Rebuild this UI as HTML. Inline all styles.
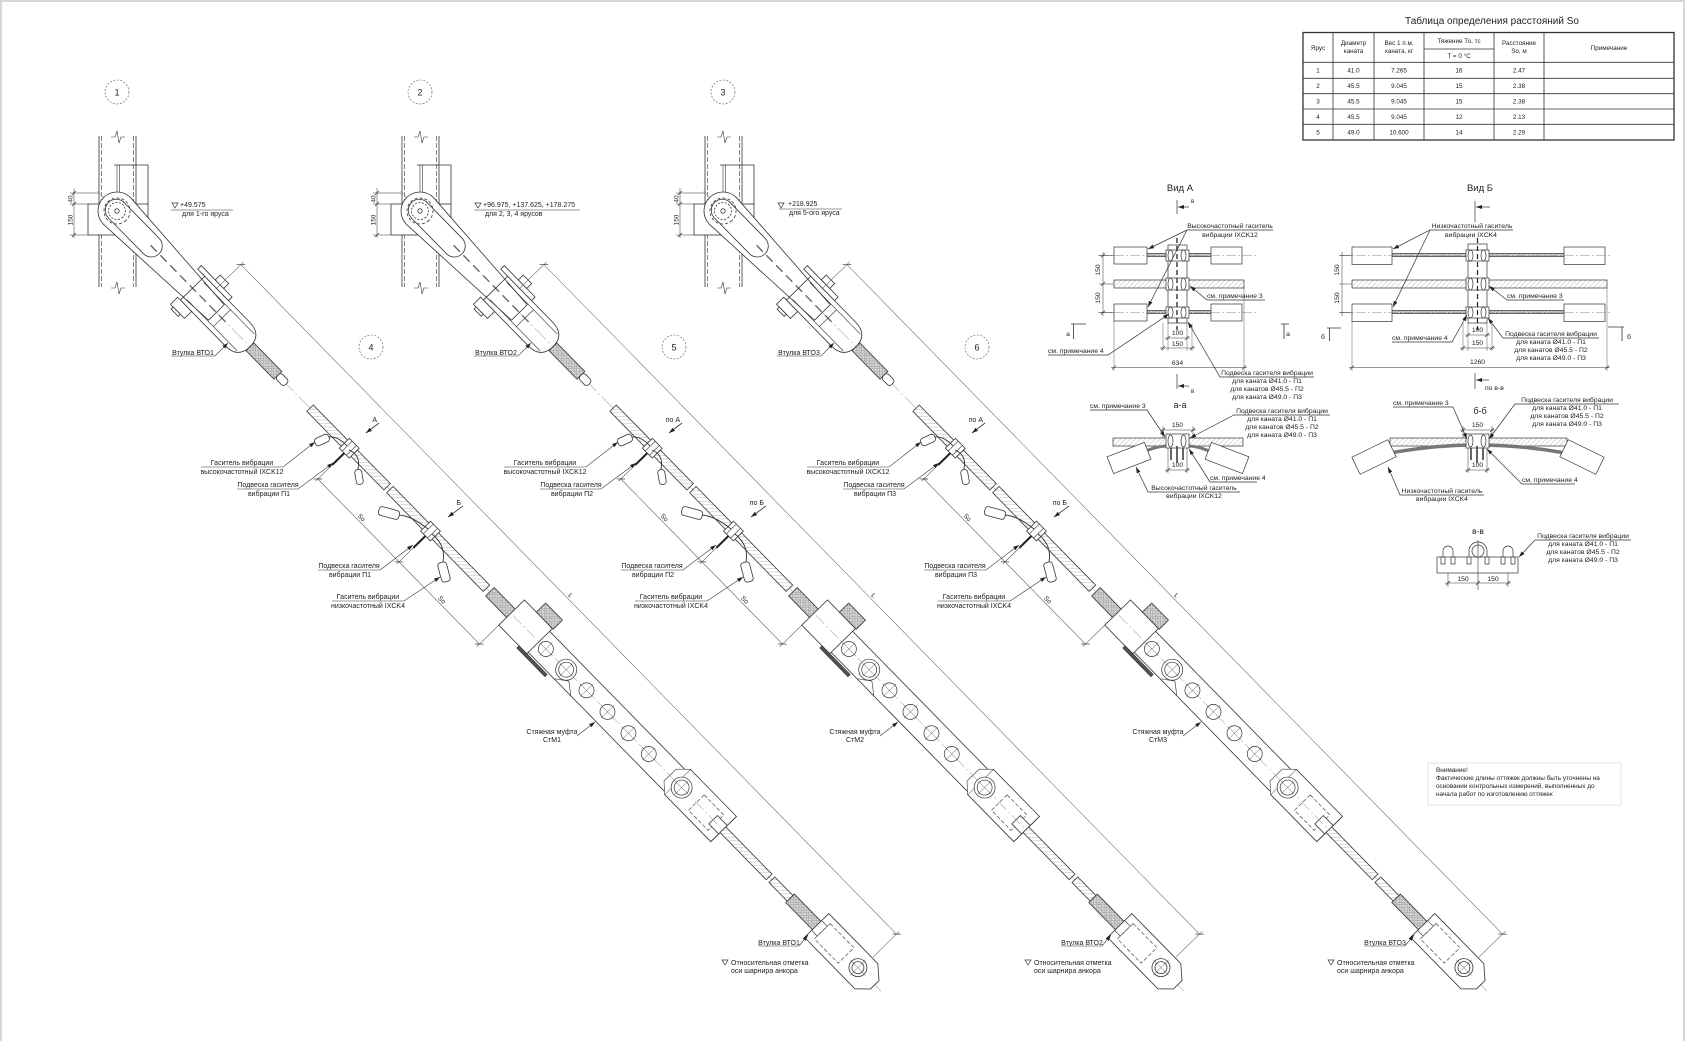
<!DOCTYPE html>
<html><head><meta charset="utf-8">
<style>
html,body{margin:0;padding:0;background:#fff;}
svg{display:block;}
text{font-family:"Liberation Sans",Arial,sans-serif;fill:#222;}
</style></head><body>
<svg width="1687" height="1041" viewBox="0 0 1687 1041" xmlns="http://www.w3.org/2000/svg">
<defs>
<pattern id="hc" width="3.5" height="3.5" patternUnits="userSpaceOnUse" patternTransform="rotate(45)"><rect width="3.5" height="3.5" fill="#fff"/><line x1="0" y1="0" x2="0" y2="3.5" stroke="#888" stroke-width="0.6"/></pattern>
<pattern id="xh" width="2.6" height="2.6" patternUnits="userSpaceOnUse" patternTransform="rotate(45)"><rect width="2.6" height="2.6" fill="#d4d4d4"/><path d="M0,0 V2.6 M0,0 H2.6" stroke="#666" stroke-width="0.45"/></pattern>
<marker id="ar" viewBox="0 0 6 4" refX="6" refY="2" markerWidth="6" markerHeight="4" markerUnits="userSpaceOnUse" orient="auto"><path d="M0,0 L6,2 L0,4 Z" fill="#222"/></marker>

<g id="asm">
  <circle cx="117" cy="92" r="12" fill="none" stroke="#555" stroke-width="0.6" stroke-dasharray="2 1.5"/>
  <circle cx="371" cy="347" r="12" fill="none" stroke="#555" stroke-width="0.6" stroke-dasharray="2 1.5"/>
  <g fill="none" stroke="#333" stroke-width="0.8">
    <path d="M99,136 V287 M136,136 V287"/>
    <path d="M101.5,136 V287 M133.5,136 V287" stroke-dasharray="5 2" stroke-width="0.6"/>
    <path d="M111,137 L115,137 L117,131 L119,143 L121,137 L125,137" stroke-width="0.6"/>
    <path d="M111,288 L115,288 L117,282 L119,294 L121,288 L125,288" stroke-width="0.6"/>
    <path d="M114,165 H148 V205"/>
    <path d="M117,165 V204 M119.5,165 V204" stroke-width="0.6"/>
    <rect x="88" y="204" width="60" height="31" fill="#fff"/>
    <path d="M74,188 V238 M70,193 H100 M70,204 H88 M70,235 H88" stroke-width="0.5"/>
    <path d="M72,195 L76,191 M72,206 L76,202 M72,237 L76,233" stroke-width="0.7"/>
  </g>
  <g transform="translate(117,211) rotate(45.6)" fill="none" stroke="#333" stroke-width="0.8">
    <line x1="-28" y1="0" x2="1092" y2="0" stroke="#999" stroke-width="0.5" stroke-dasharray="16 3 2 3"/>
    <path d="M0,-19 A19,19 0 0,0 0,19 L142,11 L142,-11 Z" fill="#fff"/>
    <rect x="-12" y="-11" width="72" height="22" rx="11"/>
    <line x1="48" y1="0" x2="160" y2="0" stroke="#666" stroke-width="1.4" stroke-dasharray="9 5"/>
    <circle r="13" stroke-dasharray="3 2"/>
    <circle r="8.5" stroke-dasharray="2 1.5"/>
    <circle r="2.2"/>
    <path d="M108,-17 L172,-17 Q190,-17 190,0 Q190,17 172,17 L108,17 Z"/>
    <path d="M112,-12 H184 M112,12 H184 M150,-12 V12" stroke-width="0.6"/>
    <rect x="98" y="-22" width="44" height="5" fill="#fff"/>
    <rect x="118" y="-29" width="12" height="7" fill="#fff"/>
    <rect x="104" y="17" width="20" height="10" fill="#fff"/>
    <rect x="108" y="27" width="10" height="3" fill="#fff"/>
    <rect x="190" y="-5.5" width="40" height="11" fill="url(#xh)"/>
    <rect x="230" y="-4" width="12" height="8" rx="3" fill="#fff"/>
    <rect x="276" y="-4.5" width="110" height="9" fill="url(#hc)"/>
    <rect x="390" y="-4.5" width="138" height="9" fill="url(#hc)"/>
    <rect x="325" y="-7" width="14" height="14" fill="#fff"/>
    <path d="M329,-7 V7 M335,-7 V7" stroke-width="0.6"/>
    <rect x="441" y="-7" width="14" height="14" fill="#fff"/>
    <path d="M445,-7 V7 M451,-7 V7" stroke-width="0.6"/>
    <path d="M332,7 V24 M448,7 V24" stroke="#222" stroke-width="2"/>
    <path d="M332,24 V47 M448,24 V47" stroke-width="0.5"/>
    <path d="M331,44 H563 M563,17 V48" stroke-width="0.5" stroke="#444"/>
    <path d="M329,47 L335,41 M445,47 L451,41 M560,47 L566,41" stroke-width="0.7"/>
    <rect x="533" y="-6" width="32" height="12" fill="url(#xh)"/>
    <rect x="566" y="-15" width="300" height="30" fill="#fff"/>
    <rect x="563" y="-19" width="40" height="36" fill="#fff"/>
    <rect x="580" y="-32" width="24" height="13" fill="url(#xh)"/>
    <rect x="592" y="17" width="40" height="3" fill="#555"/>
    <path d="M640,15 L652,6 L664,15" stroke-width="0.6"/>
    <rect x="800" y="-19" width="66" height="36" fill="#fff"/>
    <path d="M800,-19 L790,-9 L790,8 L800,17" fill="#fff" stroke-width="0.6"/>
    <rect x="828" y="-11" width="28" height="22" stroke-dasharray="4 2" stroke-width="0.6"/>
    <rect x="852" y="-6" width="14" height="12" fill="#fff"/>
    <line x1="566" y1="0" x2="866" y2="0" stroke="#999" stroke-width="0.5" stroke-dasharray="12 3 2 3"/>
    <g stroke-width="0.7">
      <circle cx="613" r="7.5" fill="#fff"/><circle cx="642" r="10.5" fill="#fff"/><circle cx="642" r="7.5"/>
      <circle cx="671" r="7.5" fill="#fff"/><circle cx="701" r="7.5" fill="#fff"/><circle cx="731" r="7.5" fill="#fff"/>
      <circle cx="760" r="7.5" fill="#fff"/><circle cx="807" r="10.5" fill="#fff"/><circle cx="807" r="7.5"/>
    </g>
    <path d="M604,0 H622 M613,-9 V9 M633,0 H651 M642,-9 V9 M662,0 H680 M671,-9 V9 M692,0 H710 M701,-9 V9 M722,0 H740 M731,-9 V9 M751,0 H769 M760,-9 V9 M798,0 H816 M807,-9 V9" stroke-width="0.4"/>
    <rect x="866" y="-4" width="66" height="8" fill="url(#hc)"/>
    <rect x="936" y="-4" width="26" height="8" fill="url(#hc)"/>
    <rect x="962" y="-6" width="40" height="12" fill="url(#xh)"/>
    <path d="M1000,-17 L1070,-17 L1083,-6 L1083,6 L1072,17 L1000,17 Z" fill="#fff"/>
    <rect x="1008" y="-11" width="34" height="22" stroke-dasharray="4 2" stroke-width="0.6"/>
    <circle cx="1059" r="9"/><circle cx="1059" r="6"/>
    <path d="M1048,0 H1070 M1059,-11 V11" stroke-width="0.4"/>
    <path d="M1000,-7 h8 v14 h-8" stroke-width="0.6"/>
    <path d="M125,-16 V-55 M1062,-18 V-55 M125,-51 H1062" stroke="#555" stroke-width="0.5"/>
    <path d="M122,-48 L128,-54 M1059,-48 L1065,-54" stroke-width="0.7"/>
  </g>
  <g fill="#fff" stroke="#333" stroke-width="0.8">
    <path d="M347,446 Q338,436 329,437 M349,450 Q361,455 358,469" fill="none" stroke-width="0.9"/>
    <path d="M428,529 Q412,516 399,515 M432,534 Q446,545 443,562" fill="none" stroke-width="0.9"/>
    <rect x="-7.5" y="-4" width="15" height="8" rx="3" transform="translate(322,440) rotate(-25)"/>
    <rect x="-7.5" y="-3.5" width="15" height="7" rx="3" transform="translate(359,477) rotate(80)"/>
    <rect x="-10.5" y="-4.5" width="21" height="9" rx="3" transform="translate(389,513) rotate(15)"/>
    <rect x="-10" y="-4.5" width="20" height="9" rx="3" transform="translate(444,572) rotate(75)"/>
  </g>
  <g fill="none" stroke="#333" stroke-width="0.6">
    <path d="M201,467 H283 L315,442" marker-end="url(#ar)"/>
    <path d="M237,489 H298 L333,463" marker-end="url(#ar)"/>
    <path d="M318,570 H380 L413,545" marker-end="url(#ar)"/>
    <path d="M332,601 H404 L440,577" marker-end="url(#ar)"/>
    <path d="M171,356 H215 L228,343" marker-end="url(#ar)"/>
    <path d="M577,736 L595,722" marker-end="url(#ar)"/>
    <path d="M758,946 H799 L808,935" marker-end="url(#ar)"/>
    <path d="M379,423 L366,433" marker-end="url(#ar)" stroke-width="0.8"/>
    <path d="M463,506 L448,517" marker-end="url(#ar)" stroke-width="0.8"/>
    <path d="M722,960 H728 L725,965 Z" stroke-width="0.7"/>
    <path d="M172,203 H178 L175,208 Z" stroke-width="0.7"/>
  </g>
</g>
</defs>

<rect x="0" y="0" width="1687" height="1041" fill="#fff"/>
<path d="M1,0 V1041 M0,1 H1685 M1684,0 V1041" stroke="#d8d8d8" stroke-width="2" fill="none"/>

<use href="#asm"/>
<use href="#asm" transform="translate(303,0)"/>
<use href="#asm" transform="translate(606,0)"/>

<g font-size="7">
  <g>
    <text x="117" y="95.5" font-size="9" text-anchor="middle">1</text>
    <text x="371" y="350.5" font-size="9" text-anchor="middle">4</text>
    <text transform="translate(72.5,199) rotate(-90)" font-size="6.5" text-anchor="middle">40</text>
    <text transform="translate(72.5,220) rotate(-90)" font-size="6.5" text-anchor="middle">150</text>
    <text x="180" y="207">+49.575</text>
    <path d="M171,210 H233" stroke="#333" stroke-width="0.6"/>
    <text x="182" y="216">для 1-го яруса</text>
    <text x="242" y="465" text-anchor="middle">Гаситель вибрации</text>
    <text x="242" y="474" text-anchor="middle">высокочастотный IXCK12</text>
    <text x="268" y="487" text-anchor="middle">Подвеска гасителя</text>
    <text x="269" y="496" text-anchor="middle">вибрации П1</text>
    <text x="349" y="568" text-anchor="middle">Подвеска гасителя</text>
    <text x="350" y="577" text-anchor="middle">вибрации П1</text>
    <text x="368" y="599" text-anchor="middle">Гаситель вибрации</text>
    <text x="368" y="608" text-anchor="middle">низкочастотный IXCK4</text>
    <text x="193" y="355" text-anchor="middle">Втулка ВТО1</text>
    <text x="552" y="734" text-anchor="middle">Стяжная муфта</text>
    <text x="552" y="742" text-anchor="middle">СтМ1</text>
    <text x="779" y="945" text-anchor="middle">Втулка ВТО1</text>
    <text x="731" y="965">Относительная отметка</text>
    <text x="731" y="973">оси шарнира анкора</text>
    <text x="377" y="422" text-anchor="end">А</text>
    <text x="461" y="505" text-anchor="end">Б</text>
    <g transform="translate(117,211) rotate(45.6)" font-size="6.5">
      <text x="390" y="42" text-anchor="middle">So</text>
      <text x="505" y="42" text-anchor="middle">So</text>
      <text x="592" y="-53" text-anchor="middle">L</text>
    </g>
  </g>
  <g transform="translate(303,0)">
    <text x="117" y="95.5" font-size="9" text-anchor="middle">2</text>
    <text x="371" y="350.5" font-size="9" text-anchor="middle">5</text>
    <text transform="translate(72.5,199) rotate(-90)" font-size="6.5" text-anchor="middle">40</text>
    <text transform="translate(72.5,220) rotate(-90)" font-size="6.5" text-anchor="middle">150</text>
    <text x="242" y="465" text-anchor="middle">Гаситель вибрации</text>
    <text x="242" y="474" text-anchor="middle">высокочастотный IXCK12</text>
    <text x="268" y="487" text-anchor="middle">Подвеска гасителя</text>
    <text x="269" y="496" text-anchor="middle">вибрации П2</text>
    <text x="349" y="568" text-anchor="middle">Подвеска гасителя</text>
    <text x="350" y="577" text-anchor="middle">вибрации П2</text>
    <text x="368" y="599" text-anchor="middle">Гаситель вибрации</text>
    <text x="368" y="608" text-anchor="middle">низкочастотный IXCK4</text>
    <text x="193" y="355" text-anchor="middle">Втулка ВТО2</text>
    <text x="552" y="734" text-anchor="middle">Стяжная муфта</text>
    <text x="552" y="742" text-anchor="middle">СтМ2</text>
    <text x="779" y="945" text-anchor="middle">Втулка ВТО2</text>
    <text x="731" y="965">Относительная отметка</text>
    <text x="731" y="973">оси шарнира анкора</text>
    <text x="377" y="422" text-anchor="end">по А</text>
    <text x="461" y="505" text-anchor="end">по Б</text>
    <g transform="translate(117,211) rotate(45.6)" font-size="6.5">
      <text x="390" y="42" text-anchor="middle">So</text>
      <text x="505" y="42" text-anchor="middle">So</text>
      <text x="592" y="-53" text-anchor="middle">L</text>
    </g>
  </g>
  <text x="483" y="207">+96.975, +137.625, +178.275</text>
  <path d="M474,210 H580" stroke="#333" stroke-width="0.6"/>
  <text x="485" y="216">для 2, 3, 4 ярусов</text>
  <g transform="translate(606,0)">
    <text x="117" y="95.5" font-size="9" text-anchor="middle">3</text>
    <text x="371" y="350.5" font-size="9" text-anchor="middle">6</text>
    <text transform="translate(72.5,199) rotate(-90)" font-size="6.5" text-anchor="middle">40</text>
    <text transform="translate(72.5,220) rotate(-90)" font-size="6.5" text-anchor="middle">150</text>
    <text x="242" y="465" text-anchor="middle">Гаситель вибрации</text>
    <text x="242" y="474" text-anchor="middle">высокочастотный IXCK12</text>
    <text x="268" y="487" text-anchor="middle">Подвеска гасителя</text>
    <text x="269" y="496" text-anchor="middle">вибрации П3</text>
    <text x="349" y="568" text-anchor="middle">Подвеска гасителя</text>
    <text x="350" y="577" text-anchor="middle">вибрации П3</text>
    <text x="368" y="599" text-anchor="middle">Гаситель вибрации</text>
    <text x="368" y="608" text-anchor="middle">низкочастотный IXCK4</text>
    <text x="193" y="355" text-anchor="middle">Втулка ВТО3</text>
    <text x="552" y="734" text-anchor="middle">Стяжная муфта</text>
    <text x="552" y="742" text-anchor="middle">СтМ3</text>
    <text x="779" y="945" text-anchor="middle">Втулка ВТО3</text>
    <text x="731" y="965">Относительная отметка</text>
    <text x="731" y="973">оси шарнира анкора</text>
    <text x="377" y="422" text-anchor="end">по А</text>
    <text x="461" y="505" text-anchor="end">по Б</text>
    <g transform="translate(117,211) rotate(45.6)" font-size="6.5">
      <text x="390" y="42" text-anchor="middle">So</text>
      <text x="505" y="42" text-anchor="middle">So</text>
      <text x="592" y="-53" text-anchor="middle">L</text>
    </g>
  </g>
  <text x="788" y="206">+218.925</text>
  <path d="M779,209 H842" stroke="#333" stroke-width="0.6"/>
  <text x="789" y="215">для 5-ого яруса</text>
</g>

<!-- TABLE -->
<text x="1492" y="24" font-size="10" text-anchor="middle">Таблица определения расстояний So</text>
<g fill="none" stroke="#333" stroke-width="0.8">
  <rect x="1303" y="32.5" width="371" height="107.5" stroke-width="1.3"/>
  <path d="M1333,32.5 V140 M1374,32.5 V140 M1424,32.5 V140 M1494,32.5 V140 M1544,32.5 V140"/>
  <path d="M1424,49 H1494"/>
  <path d="M1303,62.3 H1674 M1303,78.3 H1674 M1303,93.7 H1674 M1303,109 H1674 M1303,124.3 H1674"/>
</g>
<g font-size="6.3" text-anchor="middle">
  <text x="1318" y="50">Ярус</text>
  <text x="1353.5" y="45">Диаметр</text><text x="1353.5" y="53">каната</text>
  <text x="1399" y="45">Вес 1 п.м.</text><text x="1399" y="53">каната, кг</text>
  <text x="1459" y="43">Тяжение То, тс</text><text x="1459" y="58">Т = 0 °С</text>
  <text x="1519" y="45">Расстояние</text><text x="1519" y="53">So, м</text>
  <text x="1609" y="50">Примечание</text>
  <text x="1318" y="72.5">1</text><text x="1353.5" y="72.5">41.0</text><text x="1399" y="72.5">7.265</text><text x="1459" y="72.5">16</text><text x="1519" y="72.5">2.47</text>
  <text x="1318" y="88">2</text><text x="1353.5" y="88">45.5</text><text x="1399" y="88">9.045</text><text x="1459" y="88">15</text><text x="1519" y="88">2.38</text>
  <text x="1318" y="103.5">3</text><text x="1353.5" y="103.5">45.5</text><text x="1399" y="103.5">9.045</text><text x="1459" y="103.5">15</text><text x="1519" y="103.5">2.38</text>
  <text x="1318" y="119">4</text><text x="1353.5" y="119">45.5</text><text x="1399" y="119">9.045</text><text x="1459" y="119">12</text><text x="1519" y="119">2.13</text>
  <text x="1318" y="134.5">5</text><text x="1353.5" y="134.5">49.0</text><text x="1399" y="134.5">10.600</text><text x="1459" y="134.5">14</text><text x="1519" y="134.5">2.29</text>
</g>

<!-- VID A -->
<text x="1180" y="191" font-size="9.5" text-anchor="middle">Вид А</text>
<g fill="none" stroke="#333" stroke-width="0.7">
  <path d="M1177,200 V214"/>
  <path d="M1189,207 H1178" marker-end="url(#ar)"/>
  <rect x="1114" y="280" width="130" height="8" fill="url(#hc)"/>
  <rect x="1147" y="253.5" width="64" height="3" fill="url(#xh)"/>
  <rect x="1147" y="310.5" width="64" height="3" fill="url(#xh)"/>
  <rect x="1114" y="247" width="33" height="17" fill="#fff"/>
  <rect x="1211" y="247" width="31" height="17" fill="#fff"/>
  <rect x="1114" y="304" width="33" height="17" fill="#fff"/>
  <rect x="1211" y="304" width="31" height="17" fill="#fff"/>
  <path d="M1098,255.5 H1256 M1098,312.5 H1256" stroke="#888" stroke-width="0.5" stroke-dasharray="10 2 2 2"/>
  <rect x="1168" y="245" width="19" height="78" fill="#fff"/>
  <g fill="#fff">
    <rect x="1166" y="250" width="23" height="11"/><ellipse cx="1170.5" cy="255.5" rx="2.5" ry="5.5"/><ellipse cx="1183.5" cy="255.5" rx="2.5" ry="5.5"/>
    <rect x="1166" y="278" width="23" height="12"/><ellipse cx="1170.5" cy="284" rx="2.5" ry="6"/><ellipse cx="1183.5" cy="284" rx="2.5" ry="6"/>
    <rect x="1166" y="307" width="23" height="11"/><ellipse cx="1170.5" cy="312.5" rx="2.5" ry="5.5"/><ellipse cx="1183.5" cy="312.5" rx="2.5" ry="5.5"/>
  </g>
  <path d="M1177,238 V330" stroke="#222" stroke-width="1.3" stroke-dasharray="5 3"/>
  <path d="M1103,252 V316 M1099,255.5 H1114 M1099,284 H1114 M1099,312.5 H1114" stroke-width="0.5"/>
  <path d="M1101,257.5 L1105,253.5 M1101,286 L1105,282 M1101,314.5 L1105,310.5"/>
  <path d="M1114,321 V371 M1244,288 V371 M1168,323 V351 M1187,323 V351 M1163,323 V351 M1192,323 V351" stroke-width="0.4"/>
  <path d="M1165,338 H1190 M1160,348 H1195 M1111,367.5 H1247" stroke-width="0.5"/>
  <path d="M1166,340 L1170,336 M1185,340 L1189,336 M1161,350 L1165,346 M1190,350 L1194,346 M1112,369.5 L1116,365.5 M1242,369.5 L1246,365.5"/>
  <path d="M1071,324 H1086 M1073.5,324 V339 M1281,324 H1289 M1284,324 V339" stroke-width="0.8"/>
  <path d="M1177,374 V389"/>
  <path d="M1189,386 H1178" marker-end="url(#ar)"/>
  <path d="M1273,230 H1187 L1148,249" marker-end="url(#ar)"/>
  <path d="M1187,230 L1148,307" marker-end="url(#ar)"/>
  <path d="M1265,300 H1207 L1190,286" marker-end="url(#ar)"/>
  <path d="M1048,355 H1108 L1169,314" marker-end="url(#ar)"/>
  <path d="M1314,377 H1220 L1188,322" marker-end="url(#ar)"/>
</g>
<g font-size="6.8">
  <text x="1230" y="228" text-anchor="middle">Высокочастотный гаситель</text>
  <text x="1230" y="237" text-anchor="middle">вибрации IXCK12</text>
  <text x="1207" y="298">см. примечание 3</text>
  <text x="1048" y="353">см. примечание 4</text>
  <text transform="translate(1100,270) rotate(-90)" text-anchor="middle">150</text>
  <text transform="translate(1100,298) rotate(-90)" text-anchor="middle">150</text>
  <text x="1177.5" y="335" text-anchor="middle">100</text>
  <text x="1177.5" y="346" text-anchor="middle">150</text>
  <text x="1177.5" y="365" text-anchor="middle">634</text>
  <text x="1068" y="336" text-anchor="middle">а</text>
  <text x="1288" y="336" text-anchor="middle">а</text>
  <text x="1191" y="203" font-size="6">в</text>
  <text x="1191" y="393" font-size="6">в</text>
  <text x="1267" y="375" text-anchor="middle">Подвеска гасителя вибрации</text>
  <text x="1267" y="383" text-anchor="middle">для каната Ø41.0 - П1</text>
  <text x="1267" y="391" text-anchor="middle">для канатов Ø45.5 - П2</text>
  <text x="1267" y="399" text-anchor="middle">для каната Ø49.0 - П3</text>
</g>

<!-- SECTION a-a -->
<text x="1180" y="408" font-size="9" text-anchor="middle">а-а</text>
<g fill="none" stroke="#333" stroke-width="0.7">
  <path d="M1163,426 V446 M1193,426 V446 M1160,430 H1196" stroke-width="0.5"/>
  <path d="M1161,432 L1165,428 M1191,432 L1195,428"/>
  <rect x="1113" y="438" width="130" height="8" fill="url(#hc)"/>
  <path d="M1146,451 Q1157,446 1168,446" stroke="#777" stroke-width="3"/>
  <path d="M1209,451 Q1198,446 1187,446" stroke="#777" stroke-width="3"/>
  <rect x="-20" y="-9" width="40" height="18" transform="translate(1129,458) rotate(-21)" fill="#fff"/>
  <rect x="-20" y="-9" width="40" height="18" transform="translate(1227,458) rotate(21)" fill="#fff"/>
  <rect x="1166" y="434" width="23" height="14" fill="#fff"/>
  <ellipse cx="1170.5" cy="441" rx="2.5" ry="6" fill="#fff"/><ellipse cx="1183.5" cy="441" rx="2.5" ry="6" fill="#fff"/>
  <path d="M1171,448 V460 M1177,446 V463 M1183,448 V460" stroke-width="1.5"/>
  <path d="M1168,448 V473 M1187,448 V473 M1165,470 H1190" stroke-width="0.5"/>
  <path d="M1166,472 L1170,468 M1185,472 L1189,468"/>
  <path d="M1090,410 H1147 L1165,437" marker-end="url(#ar)"/>
  <path d="M1330,415 H1234 L1190,438" marker-end="url(#ar)"/>
  <path d="M1257,482 H1210 L1189,449" marker-end="url(#ar)"/>
  <path d="M1240,492 H1148 L1136,467" marker-end="url(#ar)"/>
</g>
<g font-size="6.8">
  <text x="1177.5" y="427" text-anchor="middle">150</text>
  <text x="1177.5" y="467" text-anchor="middle">100</text>
  <text x="1090" y="408">см. примечание 3</text>
  <text x="1282" y="413" text-anchor="middle">Подвеска гасителя вибрации</text>
  <text x="1282" y="421" text-anchor="middle">для каната Ø41.0 - П1</text>
  <text x="1282" y="429" text-anchor="middle">для канатов Ø45.5 - П2</text>
  <text x="1282" y="437" text-anchor="middle">для каната Ø49.0 - П3</text>
  <text x="1210" y="480">см. примечание 4</text>
  <text x="1194" y="490" text-anchor="middle">Высокочастотный гаситель</text>
  <text x="1194" y="498" text-anchor="middle">вибрации IXCK12</text>
</g>

<!-- VID B -->
<text x="1480" y="191" font-size="9.5" text-anchor="middle">Вид Б</text>
<g fill="none" stroke="#333" stroke-width="0.7">
  <path d="M1475,201 V222"/>
  <path d="M1490,207 H1476" marker-end="url(#ar)"/>
  <rect x="1352" y="280" width="255" height="8" fill="url(#hc)"/>
  <rect x="1392" y="253.5" width="172" height="3" fill="url(#xh)"/>
  <rect x="1392" y="310.5" width="172" height="3" fill="url(#xh)"/>
  <rect x="1352" y="247" width="40" height="17.5" fill="#fff"/>
  <rect x="1564" y="247" width="41" height="17.5" fill="#fff"/>
  <rect x="1352" y="304" width="40" height="17.5" fill="#fff"/>
  <rect x="1564" y="304" width="41" height="17.5" fill="#fff"/>
  <path d="M1340,255.5 H1612 M1340,312.5 H1612" stroke="#888" stroke-width="0.5" stroke-dasharray="10 2 2 2"/>
  <rect x="1468" y="244" width="19" height="79" fill="#fff"/>
  <g fill="#fff">
    <rect x="1466" y="250" width="23" height="11"/><ellipse cx="1470.5" cy="255.5" rx="2.5" ry="5.5"/><ellipse cx="1483.5" cy="255.5" rx="2.5" ry="5.5"/>
    <rect x="1466" y="278" width="23" height="12"/><ellipse cx="1470.5" cy="284" rx="2.5" ry="6"/><ellipse cx="1483.5" cy="284" rx="2.5" ry="6"/>
    <rect x="1466" y="307" width="23" height="11"/><ellipse cx="1470.5" cy="312.5" rx="2.5" ry="5.5"/><ellipse cx="1483.5" cy="312.5" rx="2.5" ry="5.5"/>
  </g>
  <path d="M1477.5,238 V330" stroke="#222" stroke-width="1.2" stroke-dasharray="5 3"/>
  <path d="M1342,252 V316 M1339,255.5 H1352 M1339,284 H1352 M1339,312.5 H1352" stroke-width="0.5"/>
  <path d="M1352,321 V371 M1607,288 V371 M1468,323 V351 M1487,323 V351 M1463,323 V351 M1492,323 V351" stroke-width="0.4"/>
  <path d="M1465,335 H1490 M1460,348 H1495 M1349,367.5 H1610" stroke-width="0.5"/>
  <path d="M1466,337 L1470,333 M1485,337 L1489,333 M1461,350 L1465,346 M1490,350 L1494,346 M1350,369.5 L1354,365.5 M1605,369.5 L1609,365.5"/>
  <path d="M1327,328 H1341 M1329.5,328 V341 M1608,327 H1624 M1622,327 V341" stroke-width="0.8"/>
  <path d="M1475,373 V389"/>
  <path d="M1489,380 H1476" marker-end="url(#ar)"/>
  <path d="M1513,230 H1430 L1393,249" marker-end="url(#ar)"/>
  <path d="M1430,230 L1393,307" marker-end="url(#ar)"/>
  <path d="M1564,300 H1507 L1489,286" marker-end="url(#ar)"/>
  <path d="M1392,342 H1452 L1467,315" marker-end="url(#ar)"/>
  <path d="M1599,338 H1503 L1488,318" marker-end="url(#ar)"/>
</g>
<g font-size="6.8">
  <text x="1472" y="228" text-anchor="middle">Низкочастотный гаситель</text>
  <text x="1471" y="237" text-anchor="middle">вибрации IXCK4</text>
  <text x="1507" y="298">см. примечание 3</text>
  <text x="1392" y="340">см. примечание 4</text>
  <text transform="translate(1339,270) rotate(-90)" text-anchor="middle">150</text>
  <text transform="translate(1339,298) rotate(-90)" text-anchor="middle">150</text>
  <text x="1477.5" y="332" text-anchor="middle">100</text>
  <text x="1477.5" y="345" text-anchor="middle">150</text>
  <text x="1477.5" y="364" text-anchor="middle">1260</text>
  <text x="1323" y="339" text-anchor="middle">б</text>
  <text x="1629" y="339" text-anchor="middle">б</text>
  <text x="1485" y="390">по в-в</text>
  <text x="1551" y="336" text-anchor="middle">Подвеска гасителя вибрации</text>
  <text x="1551" y="344" text-anchor="middle">для каната Ø41.0 - П1</text>
  <text x="1551" y="352" text-anchor="middle">для канатов Ø45.5 - П2</text>
  <text x="1551" y="360" text-anchor="middle">для каната Ø49.0 - П3</text>
</g>

<!-- SECTION b-b -->
<text x="1480" y="414" font-size="9" text-anchor="middle">б-б</text>
<g fill="none" stroke="#333" stroke-width="0.7">
  <path d="M1463,426 V446 M1492,426 V446 M1460,430 H1495" stroke-width="0.5"/>
  <path d="M1461,432 L1465,428 M1490,432 L1494,428"/>
  <rect x="1390" y="438" width="177" height="8" fill="url(#hc)"/>
  <path d="M1390,453 Q1477,437 1565,453" stroke="#777" stroke-width="3.5"/>
  <rect x="-20" y="-9.5" width="40" height="19" transform="translate(1374,457) rotate(-26)" fill="#fff"/>
  <rect x="-20" y="-9.5" width="40" height="19" transform="translate(1582,457) rotate(26)" fill="#fff"/>
  <rect x="1466" y="434" width="23" height="14" fill="#fff"/>
  <ellipse cx="1470.5" cy="441" rx="2.5" ry="6" fill="#fff"/><ellipse cx="1483.5" cy="441" rx="2.5" ry="6" fill="#fff"/>
  <path d="M1471,448 V460 M1477,446 V463 M1483,448 V460" stroke-width="1.5"/>
  <path d="M1468,448 V473 M1487,448 V473 M1465,470 H1490" stroke-width="0.5"/>
  <path d="M1466,472 L1470,468 M1485,472 L1489,468"/>
  <path d="M1393,407 H1453 L1467,439" marker-end="url(#ar)"/>
  <path d="M1619,404 H1515 L1489,439" marker-end="url(#ar)"/>
  <path d="M1484,495 H1400 L1388,467" marker-end="url(#ar)"/>
  <path d="M1575,484 H1522 L1487,449" marker-end="url(#ar)"/>
</g>
<g font-size="6.8">
  <text x="1477.5" y="427" text-anchor="middle">150</text>
  <text x="1477.5" y="467" text-anchor="middle">100</text>
  <text x="1393" y="405">см. примечание 3</text>
  <text x="1567" y="402" text-anchor="middle">Подвеска гасителя вибрации</text>
  <text x="1567" y="410" text-anchor="middle">для каната Ø41.0 - П1</text>
  <text x="1567" y="418" text-anchor="middle">для канатов Ø45.5 - П2</text>
  <text x="1567" y="426" text-anchor="middle">для каната Ø49.0 - П3</text>
  <text x="1442" y="493" text-anchor="middle">Низкочастотный гаситель</text>
  <text x="1442" y="501" text-anchor="middle">вибрации IXCK4</text>
  <text x="1522" y="482">см. примечание 4</text>
</g>

<!-- SECTION v-v -->
<text x="1478" y="534" font-size="8.5" text-anchor="middle">в-в</text>
<g fill="none" stroke="#333" stroke-width="0.7">
  <rect x="1437" y="557" width="81" height="16" fill="#fff"/>
  <path d="M1443,563 V551 A5,5 0 0,1 1453,551 V563"/>
  <path d="M1503,563 V551 A5,5 0 0,1 1513,551 V563"/>
  <path d="M1469,563 V551 A9,9 0 0,1 1487,551 V563"/>
  <circle cx="1478" cy="551" r="6" fill="#fff"/>
  <path d="M1441,557 h4 v7 h-4 z M1451,557 h4 v7 h-4 z M1501,557 h4 v7 h-4 z M1511,557 h4 v7 h-4 z M1467,557 h4 v7 h-4 z M1485,557 h4 v7 h-4 z" fill="#fff"/>
  <path d="M1478,540 V590" stroke-width="0.6"/>
  <path d="M1448,573 V587 M1508,573 V587 M1445,583 H1511" stroke-width="0.5"/>
  <path d="M1446,585 L1450,581 M1476,585 L1480,581 M1506,585 L1510,581"/>
  <path d="M1631,540 H1535 L1519,557" marker-end="url(#ar)"/>
</g>
<g font-size="6.8">
  <text x="1463" y="581" text-anchor="middle">150</text>
  <text x="1493" y="581" text-anchor="middle">150</text>
  <text x="1583" y="538" text-anchor="middle">Подвеска гасителя вибрации</text>
  <text x="1583" y="546" text-anchor="middle">для каната Ø41.0 - П1</text>
  <text x="1583" y="554" text-anchor="middle">для канатов Ø45.5 - П2</text>
  <text x="1583" y="562" text-anchor="middle">для каната Ø49.0 - П3</text>
</g>

<rect x="1428" y="763" width="193" height="42" fill="#fff" stroke="#e4e4e4" stroke-width="1"/>
<g font-size="6.4">
  <text x="1436" y="772">Внимание!</text>
  <text x="1436" y="780">Фактические длины оттяжек должны быть уточнены на</text>
  <text x="1436" y="788">основании контрольных измерений, выполненных до</text>
  <text x="1436" y="796">начала работ по изготовлению оттяжек</text>
</g>
</svg>
</body></html>
